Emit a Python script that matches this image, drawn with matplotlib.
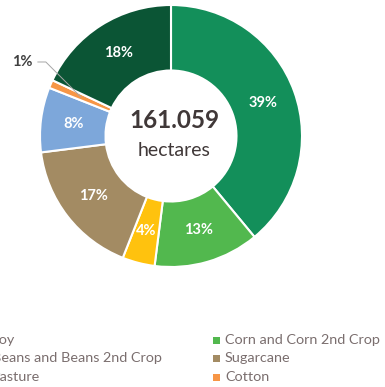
import matplotlib
matplotlib.use("Agg")
import matplotlib.pyplot as plt
from matplotlib.patches import Rectangle
import numpy as np

plt.rcParams['font.family'] = ['Lato', 'DejaVu Sans']

# slices, clockwise from the top
labels = ["Soy", "Corn and Corn 2nd Crop", "Beans and Beans 2nd Crop",
          "Sugarcane", "Pasture", "Cotton", "Others"]
shares = [39, 13, 4, 17, 8, 1, 18]
colors = ["#138F5A", "#52B84E", "#FFC20E", "#A38B63", "#7DA7DA", "#F79646", "#0B5535"]

total_text = "161.059"
unit_text = "hectares"

# legend shown (two columns, column-major)
legend_items = ["Soy", "Beans and Beans 2nd Crop", "Pasture",
                "Corn and Corn 2nd Crop", "Sugarcane", "Cotton"]

W, H = 385, 387
fig = plt.figure(figsize=(W / 100, H / 100), dpi=100)

# donut centre (171,136) px, radius 131 px
cx, cy, r = 171, 136, 131
ax = fig.add_axes([(cx - r) / W, (H - cy - r) / H, 2 * r / W, 2 * r / H])

wedges, _ = ax.pie(shares, colors=colors, startangle=90, counterclock=False,
                   radius=1, wedgeprops=dict(width=0.5, edgecolor="white", linewidth=1.5))
ax.set_xlim(-1, 1)
ax.set_ylim(-1, 1)
ax.axis("off")

# percentage labels
cum = 0
for i, s in enumerate(shares):
    mid = 90 - (cum + s / 2) / 100 * 360
    cum += s
    x = 0.75 * np.cos(np.radians(mid))
    y = 0.75 * np.sin(np.radians(mid))
    if s < 2:
        ax.annotate(f"{s}%", xy=(x, y), xytext=(-1.06, 0.565),
                    ha="right", va="center", fontsize=10.5, fontweight="bold",
                    color="#404040",
                    arrowprops=dict(arrowstyle="-", color="#A6A6A6", lw=0.7,
                                    shrinkA=2, shrinkB=0,
                                    connectionstyle="angle,angleA=0,angleB=-45,rad=0"))
    else:
        ax.text(x, y, f"{s}%", ha="center", va="center", fontsize=10.5,
                fontweight="bold", color="white")

# centre text
ax.text(0.025, 0.12, total_text, ha="center", va="center", fontsize=17.5,
        fontweight="bold", color="#403838")
ax.text(0.02, -0.11, unit_text, ha="center", va="center", fontsize=14,
        color="#403838")

# legend drawn manually (partly clipped on the left, as in the reference)
col_x = [-8, 225]
row_y = [340, 358, 377]
for k, name in enumerate(legend_items):
    col, row = divmod(k, 3)
    c = colors[labels.index(name)]
    tx = col_x[col]
    ty = row_y[row]
    fig.patches.append(Rectangle(((tx - 12) / W, (H - ty - 3.5) / H), 7 / W, 7 / H,
                                 transform=fig.transFigure, facecolor=c, edgecolor="none"))
    fig.text(tx / W, (H - ty) / H, name, ha="left", va="center", fontsize=10.4,
             color="#7A6E6E")

fig.savefig("out.png", dpi=100)
